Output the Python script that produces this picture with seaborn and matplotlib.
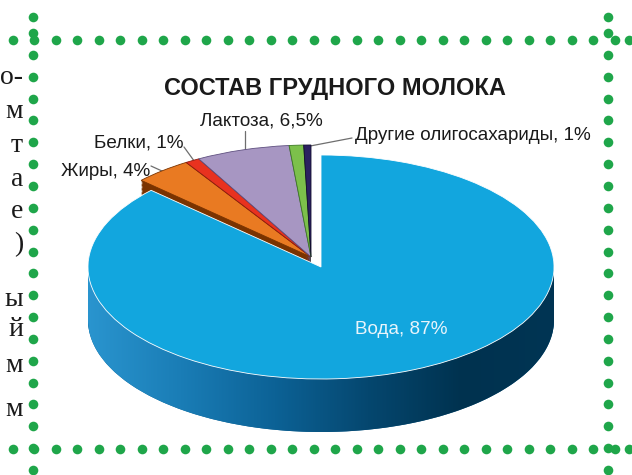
import numpy as np
import matplotlib
matplotlib.use("Agg")
import matplotlib.pyplot as plt
import seaborn as sns
from matplotlib.colors import LinearSegmentedColormap
from matplotlib.patches import Polygon

# ---------------- data ----------------
title = "СОСТАВ ГРУДНОГО МОЛОКА"
components = ["Вода", "Жиры", "Белки", "Лактоза", "Другие олигосахариды", "Прочее"]
shares = [87, 4, 1, 6.5, 1, 0.5]
share_text = ["87%", "4%", "1%", "6,5%", "1%", ""]
top_colors = ["#12a6de", "#e97a22", "#e8321f", "#a796c2", "#7cc04b", "#2b2160"]
side_colors = ["#0b5e8e", "#7a3300", "#8e1c10", "#5f5080", "#3d7a24", "#120d2e"]
page_fragments = ["о-", "м", "т", "а", "е", ")", "ы", "й", "м", "м"]

# ---------------- style ----------------
sns.set_theme(style="white")
plt.rcParams["font.family"] = ["Liberation Sans", "DejaVu Sans"]

W, H = 632, 475
CX, CY, A, B = 321, 267, 233, 112        # ellipse of the pie top (pixels)
DEPTH = 53                                # thickness (pixels)
d = DEPTH / B
gx, gy = -10 / A, 10 / B                  # group shift of the small slices

fig = plt.figure(figsize=(W / 100, H / 100), dpi=100)
fig.patch.set_facecolor("white")
bg = fig.add_axes([0, 0, 1, 1])
bg.set_xlim(0, W)
bg.set_ylim(H, 0)
bg.axis("off")

ax = fig.add_axes([0, 0, 1, 1])
ax.patch.set_alpha(0)


def px(x, y):
    return CX + A * x, CY - B * y


def draw_pie(colors, off, zorder, edge=None, lw=0.0):
    kw = dict(startangle=90, counterclock=False, radius=1.0)
    wp = dict(zorder=zorder, linewidth=lw)
    w1, _ = ax.pie(shares, colors=colors, center=(0, -off), wedgeprops=wp, **kw)
    for w in w1[1:]:
        w.set_visible(False)
    w2, _ = ax.pie(shares, colors=colors, center=(gx, gy - off), wedgeprops=wp, **kw)
    w2[0].set_visible(False)
    if edge is not None:
        for w, e in zip(w2[1:], edge[1:]):
            w.set_edgecolor(e)
    return w1, w2


# side layers (bottom to top)
for off in np.linspace(d, 0, 40, endpoint=False):
    draw_pie(side_colors, off, 1)

# gradient of the water side band
cmap = LinearSegmentedColormap.from_list(
    "side", ["#2a95cf", "#1a7db6", "#0c6296", "#05476f", "#00324f", "#003554"])
grad = np.linspace(0, 1, 256)[None, :]
im = ax.imshow(grad, extent=[-1.01, 1.01, -1 - d - 0.02, 0.0], aspect="auto",
               cmap=cmap, zorder=2, interpolation="bilinear")
theta = np.linspace(np.pi, 2 * np.pi, 300)
verts = [(-1, 0)] + list(zip(np.cos(theta), np.sin(theta) - d)) + [(1, 0)]
clip = Polygon(verts, closed=True, facecolor="none", edgecolor="none",
               transform=ax.transData)
ax.add_patch(clip)
im.set_clip_path(clip)

# top face
draw_pie(top_colors, 0, 3, edge=side_colors, lw=0.6)

ax.set_xlim((0 - CX) / A, (W - CX) / A)
ax.set_ylim((CY - H) / B, CY / B)
ax.set_aspect("auto")
ax.axis("off")

# ---------------- labels ----------------
total = sum(shares)
cum = np.cumsum([0] + shares[:-1])
mid = [np.deg2rad(90 - 360 * (c + s / 2) / total) for c, s in zip(cum, shares)]


def anchor(i, r=0.97):
    return px(gx + r * np.cos(mid[i]), gy + r * np.sin(mid[i]))


fs = 13.6
lc = "#6e6e6e"
tc = "#1a1a1a"
# Жиры
bg.text(150, 172, f"{components[1]}, {share_text[1]}", ha="right", va="center",
        fontsize=fs, color=tc, zorder=6)
ax_, ay_ = anchor(1)
bg.plot([151, ax_], [166, ay_], color=lc, lw=0.9, zorder=6)
# Белки
bg.text(183, 143, f"{components[2]}, {share_text[2]}", ha="right", va="center",
        fontsize=fs, color=tc, zorder=6)
ax_, ay_ = anchor(2)
bg.plot([184, ax_], [147, ay_], color=lc, lw=0.9, zorder=6)
# Лактоза
bg.text(261, 121, f"{components[3]}, {share_text[3]}", ha="center", va="center",
        fontsize=fs, color=tc, zorder=6)
ax_, ay_ = anchor(3)
bg.plot([ax_, ax_], [131, ay_], color=lc, lw=0.9, zorder=6)
# Другие олигосахариды
bg.text(355, 136, f"{components[4]}, {share_text[4]}", ha="left", va="center",
        fontsize=fs, color=tc, zorder=6)
ax_, ay_ = anchor(4)
bg.plot([352, ax_], [138, ay_], color=lc, lw=0.9, zorder=6)
# Вода
ax.text((401 - CX) / A, (CY - 329) / B, f"{components[0]}, {share_text[0]}",
        ha="center", va="center", fontsize=fs, color="#e8f4fb", zorder=7)

# title
bg.text(335, 88, title, ha="center", va="center", fontsize=17,
        fontweight="bold", color="#1a1a1a", zorder=6)

# ---------------- page decoration ----------------
green = "#1fa64a"
row_x = 12.7 + 21.5 * np.arange(29)
row_x = np.append(row_x, 629)
col_y = np.append([17], 33 + 21.85 * np.arange(21))
for yy in (40, 449):
    bg.scatter(row_x, np.full_like(row_x, yy), s=48, color=green, lw=0, zorder=5)
for xx in (33, 608):
    bg.scatter(np.full_like(col_y, xx), col_y, s=48, color=green, lw=0, zorder=5)

frag_y = [77, 112, 145, 180, 212, 245, 299, 330, 366, 409]
for t, yy in zip(page_fragments, frag_y):
    bg.text(23, yy, t, ha="right", va="center", fontsize=20,
            family=["Liberation Serif", "DejaVu Serif"], color="#1a1a1a")

fig.savefig("out.png", dpi=100, facecolor="white")
